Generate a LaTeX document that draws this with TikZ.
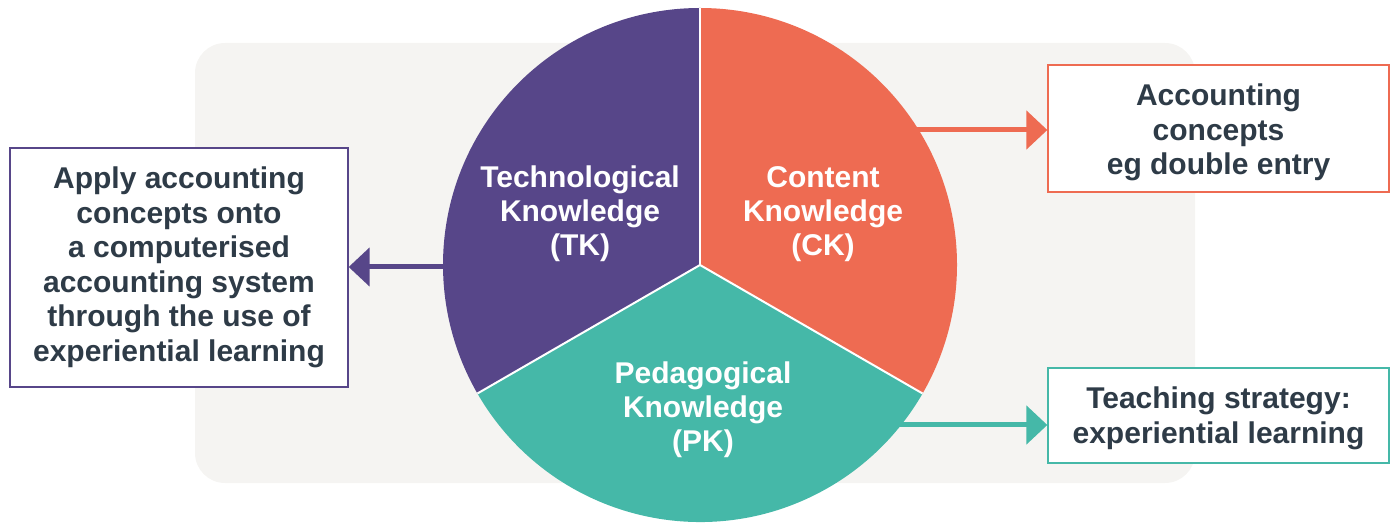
\documentclass[tikz,border=0pt]{standalone}
\usepackage{fontspec}
\setmainfont{Liberation Sans}
\usetikzlibrary{arrows.meta}
\definecolor{bgc}{HTML}{F5F4F2}
\definecolor{tkc}{HTML}{574689}
\definecolor{ckc}{HTML}{EE6B52}
\definecolor{pkc}{HTML}{45B8A8}
\definecolor{txc}{HTML}{2E3B47}
\tikzset{
  x=1pt,y=1pt,
  infobox/.style={draw, line width=1.3pt, fill=white, inner sep=0pt},
  boxtext/.style={align=center, inner sep=0pt,
     text=txc, font=\fontsize{30}{34.5}\selectfont\bfseries},
  pielabel/.style={text=white, align=center, inner sep=0pt,
     font=\fontsize{30}{34}\selectfont\bfseries},
  conn/.style={line width=5pt, -{Triangle[length=21pt,width=38pt]}},
}
\begin{document}
\begin{tikzpicture}
\useasboundingbox (0,0) rectangle (1394,522);
% background panel
\fill[bgc, rounded corners=30pt] (195,39) rectangle (1195,479);
% boxes
\node[infobox, draw=tkc, minimum width=338pt, minimum height=239pt] (tkbox) at (179,254.5) {};
\node[boxtext] (tktext) at (tkbox.center)
  {Apply accounting\\concepts onto\\a computerised\\accounting system\\through the use of\\experiential learning};
\node[infobox, draw=ckc, minimum width=341pt, minimum height=127pt] (ckbox) at (1218.5,393.5) {};
\node[boxtext] (cktext) at ([yshift=-4pt]ckbox.center)
  {Accounting\\concepts\\eg double entry};
\node[infobox, draw=pkc, minimum width=341pt, minimum height=95pt] (pkbox) at (1218.5,106.5) {};
\node[boxtext] (pktext) at ([yshift=-3pt]pkbox.center)
  {Teaching strategy:\\experiential learning};
% circle
\coordinate (c) at (700,257);
\coordinate (tkout) at (460,255);
\coordinate (ckout) at (900,392);
\coordinate (pkout) at (880,97);
\draw[conn, tkc] (tkout) -- (tkout -| tkbox.east);
\draw[conn, ckc] (ckout) -- (ckout -| ckbox.west);
\draw[conn, pkc] (pkout) -- (pkout -| pkbox.west);
\fill[tkc] (c) -- ++(90:257) arc[start angle=90, end angle=210, radius=257] -- cycle;
\fill[ckc] (c) -- ++(90:257) arc[start angle=90, end angle=-30, radius=257] -- cycle;
\fill[pkc] (c) -- ++(210:257) arc[start angle=210, end angle=330, radius=257] -- cycle;
\draw[white, line width=2pt] (c) -- ++(90:257);
\draw[white, line width=2pt] (c) -- ++(210:257);
\draw[white, line width=2pt] (c) -- ++(330:257);
\node[pielabel] (tk) at (580,308) {Technological\\Knowledge\\(TK)};
\node[pielabel] (ck) at (823,308) {Content\\Knowledge\\(CK)};
\node[pielabel] (pk) at (703,112) {Pedagogical\\Knowledge\\(PK)};
\end{tikzpicture}
\end{document}
